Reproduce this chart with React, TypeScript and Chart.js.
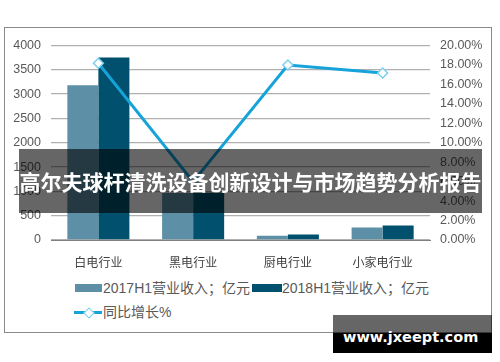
import React, { useEffect, useRef } from "react";
import { Chart, registerables } from "chart.js";

Chart.register(...registerables);

const categories = ["白电行业", "黑电行业", "厨电行业", "小家电行业"];
const revenue2017 = [3180, 965, 88, 256];
const revenue2018 = [3755, 970, 115, 298];
const growth = [0.1818, 0.06, 0.18, 0.1717];
const seriesNames = ["2017H1营业收入；亿元", "2018H1营业收入；亿元", "同比增长%"];
const titleText = "高尔夫球杆清洗设备创新设计与市场趋势分析报告";
const watermark = "www.jxeept.com";

const C2017 = "#5d90a7";
const C2018 = "#01506e";
const CLINE = "#15a3d9";
const FONT = "'Liberation Sans', 'Noto Sans CJK SC', sans-serif";

export default function App() {
  const ref = useRef<HTMLCanvasElement | null>(null);
  useEffect(() => {
    if (!ref.current) return;
    const chart = new Chart(ref.current, {
      data: {
        labels: categories,
        datasets: [
          {
            type: "line",
            label: seriesNames[2],
            data: growth,
            yAxisID: "y1",
            borderColor: CLINE,
            borderWidth: 3,
            pointStyle: "rectRot",
            pointRadius: 5,
            pointBackgroundColor: "#ffffff",
            pointBorderColor: "#79d0ef",
            pointBorderWidth: 1.5,
            order: 0,
          } as any,
          {
            type: "bar",
            label: seriesNames[0],
            data: revenue2017,
            yAxisID: "y",
            backgroundColor: C2017,
            categoryPercentage: 0.655,
            barPercentage: 1,
            order: 1,
          },
          {
            type: "bar",
            label: seriesNames[1],
            data: revenue2018,
            yAxisID: "y",
            backgroundColor: C2018,
            categoryPercentage: 0.655,
            barPercentage: 1,
            order: 1,
          },
        ],
      },
      options: {
        responsive: false,
        animation: false,
        devicePixelRatio: 1,
        layout: { padding: { top: 14, left: 0, right: 0, bottom: 0 } },
        plugins: { legend: { display: false }, tooltip: { enabled: false } },
        scales: {
          x: {
            grid: { display: false },
            border: { display: true, color: "#808080", width: 1 },
            ticks: { color: "#404040", font: { family: FONT, size: 12 }, padding: 8 },
            afterFit: (s: any) => { s.height = 28; },
          },
          y: {
            position: "left",
            min: 0,
            max: 4000,
            ticks: {
              stepSize: 500,
              color: "#595959",
              font: { family: FONT, size: 12.5 },
              padding: 10,
              callback: (v: any) => String(v),
            },
            grid: { color: "#b0b0b0", lineWidth: 1.3, drawTicks: false },
            border: { display: false },
            afterFit: (s: any) => { s.width = 46; },
          },
          y1: {
            position: "right",
            min: 0,
            max: 0.2,
            ticks: {
              stepSize: 0.02,
              color: "#595959",
              font: { family: FONT, size: 12.5 },
              padding: 10,
              callback: (v: any) => (Number(v) * 100).toFixed(2) + "%",
            },
            grid: { display: false, drawTicks: false },
            border: { display: false },
            afterFit: (s: any) => { s.width = 60; },
          },
        },
      } as any,
    });
    return () => chart.destroy();
  }, []);

  const legendText: React.CSSProperties = {
    position: "absolute",
    fontFamily: FONT,
    fontSize: 14,
    color: "#595959",
    lineHeight: "16px",
    whiteSpace: "nowrap",
  };

  return (
    <div style={{ position: "fixed", left: 0, top: 0, width: 500, height: 362, background: "#fff", overflow: "hidden" }}>
      <div
        style={{
          position: "absolute",
          left: 4,
          top: 27,
          width: 488,
          height: 306,
          boxSizing: "border-box",
          border: "1px solid #8a8a8a",
        }}
      >
        <canvas ref={ref} width={485} height={240} style={{ position: "absolute", left: 0, top: 0 }} />
      </div>
      {/* legend */}
      <div style={{ position: "absolute", left: 75, top: 284, width: 27, height: 8, background: C2017 }} />
      <div style={{ ...legendText, left: 103, top: 280 }}>{seriesNames[0]}</div>
      <div style={{ position: "absolute", left: 252, top: 284, width: 30, height: 8, background: C2018 }} />
      <div style={{ ...legendText, left: 282, top: 280 }}>{seriesNames[1]}</div>
      <div style={{ position: "absolute", left: 74, top: 311, width: 28, height: 3, background: CLINE }} />
      <div
        style={{
          position: "absolute",
          left: 84.5,
          top: 308.5,
          width: 6,
          height: 6,
          background: "#fff",
          border: "1.5px solid #79d0ef",
          transform: "rotate(45deg)",
        }}
      />
      <div style={{ ...legendText, left: 103, top: 304 }}>{seriesNames[2]}</div>
      {/* title banner */}
      <div
        style={{
          position: "absolute",
          left: 19,
          top: 149,
          width: 463,
          height: 64,
          background: "rgba(0,0,0,0.6)",
          display: "flex",
          alignItems: "center",
          justifyContent: "center",
        }}
      >
        <span
          style={{
            fontFamily: "'Noto Sans CJK SC', sans-serif",
            fontWeight: 700,
            fontSize: 21,
            color: "#fff",
            whiteSpace: "nowrap",
            lineHeight: "24px",
          }}
        >
          {titleText}
        </span>
      </div>
      {/* watermark */}
      <div style={{ position: "absolute", left: 333, top: 315, width: 159, height: 38, background: "rgba(0,0,0,0.6)" }} />
      <div style={{ position: "absolute", left: 333, top: 333, width: 159, height: 20, background: "#000" }} />
      <div
        style={{
          position: "absolute",
          left: 343,
          top: 328,
          fontFamily: "'DejaVu Sans', sans-serif",
          fontWeight: 700,
          fontSize: 14.5,
          lineHeight: "18px",
          color: "#fff",
          whiteSpace: "nowrap",
        }}
      >
        {watermark}
      </div>
    </div>
  );
}
